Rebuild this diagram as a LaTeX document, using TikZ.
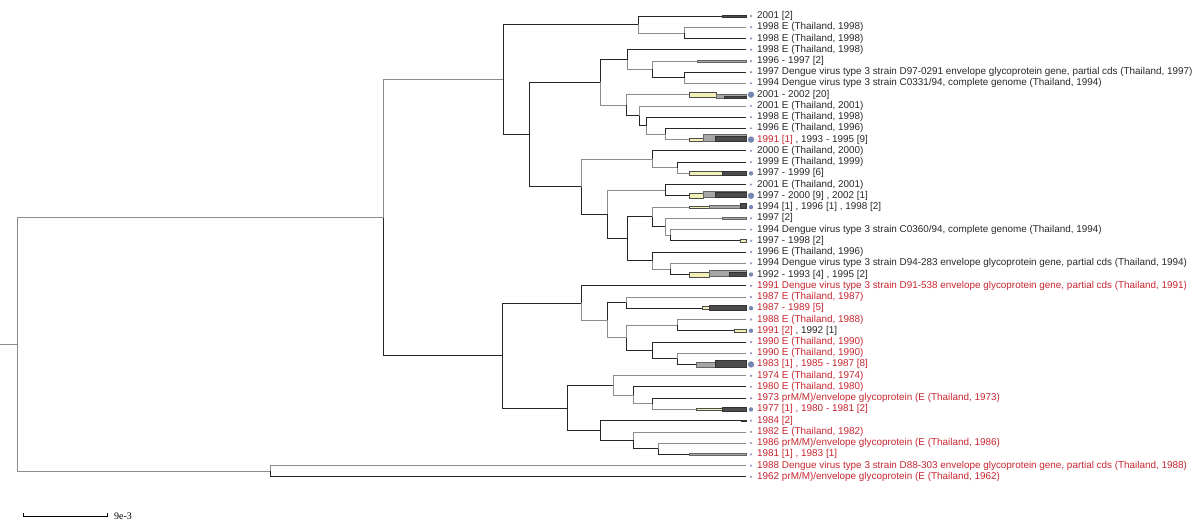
\documentclass[tikz,border=0pt]{standalone}
\usepackage{fontspec}
\setmainfont{Liberation Sans}
\newfontfamily\scalefont{Liberation Serif}
\usetikzlibrary{positioning}

\definecolor{labred}{RGB}{200,38,48}
\definecolor{labtxt}{RGB}{40,40,40}
\definecolor{tipc}{RGB}{118,136,178}
\definecolor{clyel}{RGB}{242,240,182}

\begin{document}
\begin{tikzpicture}[
  x=1pt, y=-1pt,
  lab/.style={anchor=west, inner sep=0pt, font=\fontsize{9.9}{11}\selectfont, text=labtxt},
  redlab/.style={lab, text=labred},
  br/.style={draw=black!85, line width=0.9pt},
  brl/.style={draw=black!45, line width=0.8pt},
  ybar/.style={fill=clyel, draw=black!70, line width=0.4pt},
  gbar/.style={fill=black!35, draw=black!60, line width=0.4pt},
  dbar/.style={fill=black!70, draw=black!80, line width=0.4pt},
  tip/.style={fill=tipc!80},
  bigtip/.style={fill=tipc}
]
\useasboundingbox (0,0) rectangle (1200,531);

% leaves
\coordinate (l1) at (746,16.0);  \node[lab, right=11pt of l1] (t1) {2001 [2]};
\coordinate (l2) at (746,27.2);  \node[lab, right=11pt of l2] (t2) {1998 E (Thailand, 1998)};
\coordinate (l3) at (746,38.5);  \node[lab, right=11pt of l3] (t3) {1998 E (Thailand, 1998)};
\coordinate (l4) at (746,49.7);  \node[lab, right=11pt of l4] (t4) {1998 E (Thailand, 1998)};
\coordinate (l5) at (746,61.0);  \node[lab, right=11pt of l5] (t5) {1996 - 1997 [2]};
\coordinate (l6) at (746,72.2);  \node[lab, right=11pt of l6] (t6) {1997 Dengue virus type 3 strain D97-0291 envelope glycoprotein gene, partial cds (Thailand, 1997)};
\coordinate (l7) at (746,83.4);  \node[lab, right=11pt of l7] (t7) {1994 Dengue virus type 3 strain C0331/94, complete genome (Thailand, 1994)};
\coordinate (l8) at (746,94.7);  \node[lab, right=11pt of l8] (t8) {2001 - 2002 [20]};
\coordinate (l9) at (746,105.9); \node[lab, right=11pt of l9] (t9) {2001 E (Thailand, 2001)};
\coordinate (l10) at (746,117.2); \node[lab, right=11pt of l10] (t10) {1998 E (Thailand, 1998)};
\coordinate (l11) at (746,128.4); \node[lab, right=11pt of l11] (t11) {1996 E (Thailand, 1996)};
\coordinate (l12) at (746,139.6); \node[lab, right=11pt of l12] (t12) {\textcolor{labred}{1991 [1]} , 1993 - 1995 [9]};
\coordinate (l13) at (746,150.9); \node[lab, right=11pt of l13] (t13) {2000 E (Thailand, 2000)};
\coordinate (l14) at (746,162.1); \node[lab, right=11pt of l14] (t14) {1999 E (Thailand, 1999)};
\coordinate (l15) at (746,173.4); \node[lab, right=11pt of l15] (t15) {1997 - 1999 [6]};
\coordinate (l16) at (746,184.6); \node[lab, right=11pt of l16] (t16) {2001 E (Thailand, 2001)};
\coordinate (l17) at (746,195.8); \node[lab, right=11pt of l17] (t17) {1997 - 2000 [9] , 2002 [1]};
\coordinate (l18) at (746,207.1); \node[lab, right=11pt of l18] (t18) {1994 [1] , 1996 [1] , 1998 [2]};
\coordinate (l19) at (746,218.3); \node[lab, right=11pt of l19] (t19) {1997 [2]};
\coordinate (l20) at (746,229.6); \node[lab, right=11pt of l20] (t20) {1994 Dengue virus type 3 strain C0360/94, complete genome (Thailand, 1994)};
\coordinate (l21) at (746,240.8); \node[lab, right=11pt of l21] (t21) {1997 - 1998 [2]};
\coordinate (l22) at (746,252.0); \node[lab, right=11pt of l22] (t22) {1996 E (Thailand, 1996)};
\coordinate (l23) at (746,263.3); \node[lab, right=11pt of l23] (t23) {1994 Dengue virus type 3 strain D94-283 envelope glycoprotein gene, partial cds (Thailand, 1994)};
\coordinate (l24) at (746,274.5); \node[lab, right=11pt of l24] (t24) {1992 - 1993 [4] , 1995 [2]};
\coordinate (l25) at (746,285.8); \node[redlab, right=11pt of l25] (t25) {1991 Dengue virus type 3 strain D91-538 envelope glycoprotein gene, partial cds (Thailand, 1991)};
\coordinate (l26) at (746,297.0); \node[redlab, right=11pt of l26] (t26) {1987 E (Thailand, 1987)};
\coordinate (l27) at (746,308.2); \node[redlab, right=11pt of l27] (t27) {1987 - 1989 [5]};
\coordinate (l28) at (746,319.5); \node[redlab, right=11pt of l28] (t28) {1988 E (Thailand, 1988)};
\coordinate (l29) at (746,330.7); \node[redlab, right=11pt of l29] (t29) {1991 [2] \textcolor{labtxt}{, 1992 [1]}};
\coordinate (l30) at (746,342.0); \node[redlab, right=11pt of l30] (t30) {1990 E (Thailand, 1990)};
\coordinate (l31) at (746,353.2); \node[redlab, right=11pt of l31] (t31) {1990 E (Thailand, 1990)};
\coordinate (l32) at (746,364.4); \node[redlab, right=11pt of l32] (t32) {1983 [1] , 1985 - 1987 [8]};
\coordinate (l33) at (746,375.7); \node[redlab, right=11pt of l33] (t33) {1974 E (Thailand, 1974)};
\coordinate (l34) at (746,386.9); \node[redlab, right=11pt of l34] (t34) {1980 E (Thailand, 1980)};
\coordinate (l35) at (746,398.2); \node[redlab, right=11pt of l35] (t35) {1973 prM/M)/envelope glycoprotein (E (Thailand, 1973)};
\coordinate (l36) at (746,409.4); \node[redlab, right=11pt of l36] (t36) {1977 [1] , 1980 - 1981 [2]};
\coordinate (l37) at (746,420.6); \node[redlab, right=11pt of l37] (t37) {1984 [2]};
\coordinate (l38) at (746,431.9); \node[redlab, right=11pt of l38] (t38) {1982 E (Thailand, 1982)};
\coordinate (l39) at (746,443.1); \node[redlab, right=11pt of l39] (t39) {1986 prM/M)/envelope glycoprotein (E (Thailand, 1986)};
\coordinate (l40) at (746,454.4); \node[redlab, right=11pt of l40] (t40) {1981 [1] , 1983 [1]};
\coordinate (l41) at (746,465.6); \node[redlab, right=11pt of l41] (t41) {1988 Dengue virus type 3 strain D88-303 envelope glycoprotein gene, partial cds (Thailand, 1988)};
\coordinate (l42) at (746,476.8); \node[redlab, right=11pt of l42] (t42) {1962 prM/M)/envelope glycoprotein (E (Thailand, 1962)};

% internal nodes
\coordinate (base) at (0,344.4);
\coordinate (root) at (17,344.4);
\coordinate (in) at (383,217.5);
\coordinate (og) at (270,471.2);
\coordinate (a1) at (503,79.5);
\coordinate (a2) at (638,24.4);
\coordinate (a3) at (684,32.9);
\coordinate (a4) at (529,134.6);
\coordinate (b1) at (600,82.4);
\coordinate (b2) at (627,59.6);
\coordinate (b3) at (652,69.4);
\coordinate (b4) at (684,77.8);
\coordinate (c2) at (626,105.2);
\coordinate (c3) at (639,115.8);
\coordinate (c4) at (646,125.6);
\coordinate (c5) at (665,134.0);
\coordinate (d1) at (581,186.9);
\coordinate (d2) at (652,159.3);
\coordinate (d3) at (677,167.8);
\coordinate (e1) at (607,214.4);
\coordinate (e2) at (665,190.2);
\coordinate (f1) at (627,238.7);
\coordinate (f2) at (652,216.9);
\coordinate (f3) at (665,226.7);
\coordinate (f4) at (670,235.2);
\coordinate (g2) at (652,260.5);
\coordinate (g3) at (670,268.9);
\coordinate (hb) at (502,355.5);
\coordinate (h1) at (581,303.0);
\coordinate (h2) at (607,320.2);
\coordinate (h3) at (626,302.6);
\coordinate (i3) at (626,337.8);
\coordinate (i4) at (677,325.1);
\coordinate (i5) at (652,350.4);
\coordinate (i6) at (677,358.8);
\coordinate (j1) at (567,408.0);
\coordinate (j2) at (613,385.5);
\coordinate (j3) at (633,395.4);
\coordinate (j4) at (652,403.8);
\coordinate (k2) at (600,430.5);
\coordinate (k3) at (633,440.3);
\coordinate (k4) at (658,448.8);

% branches
\draw[brl] (base) -- (root);
\draw[brl] (root) |- (in);
\draw[brl] (root) |- (og);
\draw[brl] (og) |- (l41);
\draw[br] (og) |- (l42);
\draw[brl] (in) |- (a1);
\draw[br] (in) |- (hb);
\draw[br] (a1) |- (a2);
\draw[br] (a1) |- (a4);
\draw[br] (a2) |- (l1);
\draw[brl] (a2) |- (a3);
\draw[brl] (a3) |- (l2);
\draw[br] (a3) |- (l3);
\draw[br] (a4) |- (b1);
\draw[br] (a4) |- (d1);
\draw[br] (b1) |- (b2);
\draw[brl] (b1) |- (c2);
\draw[br] (b2) |- (l4);
\draw[brl] (b2) |- (b3);
\draw[brl] (b3) |- (l5);
\draw[br] (b3) |- (b4);
\draw[br] (b4) |- (l6);
\draw[brl] (b4) |- (l7);
\draw[brl] (c2) |- (l8);
\draw[br] (c2) |- (c3);
\draw[brl] (c3) |- (l9);
\draw[br] (c3) |- (c4);
\draw[br] (c4) |- (l10);
\draw[brl] (c4) |- (c5);
\draw[br] (c5) |- (l11);
\draw[brl] (c5) |- (l12);
\draw[brl] (d1) |- (d2);
\draw[br] (d1) |- (e1);
\draw[br] (d2) |- (l13);
\draw[brl] (d2) |- (d3);
\draw[br] (d3) |- (l14);
\draw[brl] (d3) |- (l15);
\draw[brl] (e1) |- (e2);
\draw[br] (e1) |- (f1);
\draw[br] (e2) |- (l16);
\draw[br] (e2) |- (l17);
\draw[br] (f1) |- (f2);
\draw[br] (f1) |- (g2);
\draw[brl] (f2) |- (l18);
\draw[br] (f2) |- (f3);
\draw[brl] (f3) |- (l19);
\draw[brl] (f3) |- (f4);
\draw[brl] (f4) |- (l20);
\draw[br] (f4) |- (l21);
\draw[br] (g2) |- (l22);
\draw[brl] (g2) |- (g3);
\draw[brl] (g3) |- (l23);
\draw[br] (g3) |- (l24);
\draw[br] (hb) |- (h1);
\draw[br] (hb) |- (j1);
\draw[br] (h1) |- (l25);
\draw[brl] (h1) |- (h2);
\draw[br] (h2) |- (h3);
\draw[brl] (h2) |- (i3);
\draw[brl] (h3) |- (l26);
\draw[br] (h3) |- (l27);
\draw[brl] (i3) |- (i4);
\draw[br] (i3) |- (i5);
\draw[brl] (i4) |- (l28);
\draw[br] (i4) |- (l29);
\draw[br] (i5) |- (l30);
\draw[br] (i5) |- (i6);
\draw[brl] (i6) |- (l31);
\draw[br] (i6) |- (l32);
\draw[br] (j1) |- (j2);
\draw[br] (j1) |- (k2);
\draw[brl] (j2) |- (l33);
\draw[brl] (j2) |- (j3);
\draw[br] (j3) |- (l34);
\draw[brl] (j3) |- (j4);
\draw[br] (j4) |- (l35);
\draw[brl] (j4) |- (l36);
\draw[br] (k2) |- (l37);
\draw[br] (k2) |- (k3);
\draw[brl] (k3) |- (l38);
\draw[br] (k3) |- (k4);
\draw[brl] (k4) |- (l39);
\draw[br] (k4) |- (l40);

% collapsed clades
\filldraw[dbar] (722,15.0) rectangle (746,17.0);
\filldraw[gbar] (697,60.0) rectangle (746,62.0);
\filldraw[ybar] (689,92.4) rectangle (716,97.2);
\filldraw[gbar] (716,94.0) rectangle (746,98.4);
\filldraw[dbar] (724,96.0) rectangle (746,98.0);
\filldraw[ybar] (689,137.8) rectangle (703,141.0);
\filldraw[gbar] (703,134.6) rectangle (746,141.0);
\filldraw[dbar] (715,136.6) rectangle (746,141.0);
\filldraw[ybar] (689,170.8) rectangle (722,175.6);
\filldraw[dbar] (722,171.0) rectangle (746,175.0);
\filldraw[ybar] (689,193.6) rectangle (703,198.0);
\filldraw[gbar] (703,191.6) rectangle (746,197.6);
\filldraw[dbar] (715,192.0) rectangle (746,197.6);
\filldraw[ybar] (689,205.8) rectangle (709,208.6);
\filldraw[gbar] (709,205.2) rectangle (740,207.8);
\filldraw[dbar] (740,203.4) rectangle (746,208.2);
\filldraw[gbar] (722,217.3) rectangle (746,219.3);
\filldraw[ybar] (740,239.4) rectangle (746,242.0);
\filldraw[ybar] (689,272.2) rectangle (709,276.8);
\filldraw[gbar] (709,270.2) rectangle (746,276.6);
\filldraw[dbar] (729,272.2) rectangle (746,276.4);
\filldraw[ybar] (702,306.6) rectangle (709,309.6);
\filldraw[dbar] (709,304.8) rectangle (746,310.0);
\filldraw[ybar] (734,329.4) rectangle (746,331.8);
\filldraw[gbar] (696,362.0) rectangle (715,367.0);
\filldraw[dbar] (715,360.4) rectangle (746,366.8);
\filldraw[ybar] (696,408.2) rectangle (722,410.4);
\filldraw[dbar] (722,406.8) rectangle (746,411.6);
\filldraw[dbar] (741,419.8) rectangle (746,421.4);
\filldraw[gbar] (689,453.4) rectangle (746,455.4);

% tip markers
\foreach \n in {l1,l2,l3,l4,l5,l6,l7,l9,l10,l11,l13,l14,l16,l19,l20,l21,l22,l23,l25,l26,l28,l30,l31,l33,l34,l35,l37,l38,l39,l40,l41,l42}
  \fill[tip] ([xshift=5pt]\n) circle (1.3pt);
\foreach \n in {l15,l18,l24,l27,l29,l36}
  \fill[bigtip] ([xshift=5pt]\n) circle (2.2pt);
\foreach \n in {l8,l12,l17,l32}
  \fill[bigtip] ([xshift=5pt]\n) circle (3.2pt);

% scale bar
\coordinate (sbl) at (23,516);
\coordinate (sbr) at (107,516);
\draw[black, line width=0.8pt] (sbl) ++(0,-3) -- (sbl) -- (sbr) -- ++(0,-3);
\node[anchor=west, inner sep=0pt, font=\scalefont\fontsize{10}{11}\selectfont, right=7pt of sbr] (sbt) {9e-3};
\end{tikzpicture}
\end{document}
